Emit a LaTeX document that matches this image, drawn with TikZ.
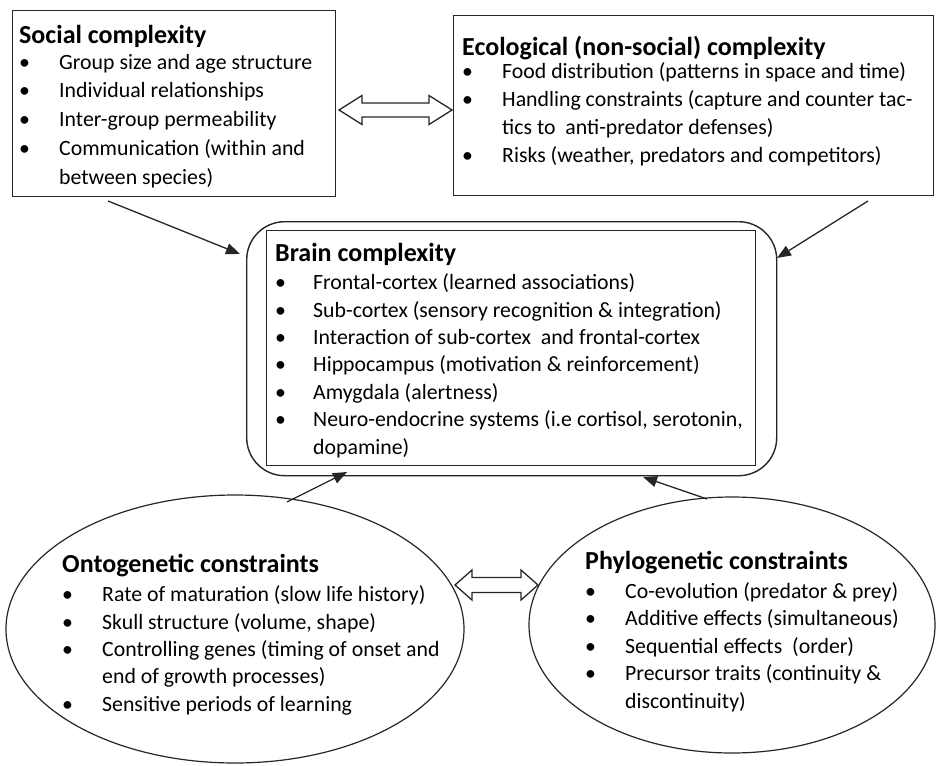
\documentclass[tikz,border=0pt]{standalone}
\usepackage{fontspec}
\setmainfont{Carlito}
\usetikzlibrary{arrows.meta,shapes.geometric}
\newcommand{\myBW}{40pt}
\newcommand{\bl}[1]{\makebox[\myBW][l]{\textbullet}#1}
\newcommand{\ct}[1]{\hspace*{\myBW}#1}
\newcommand{\hd}{\fontsize{26}{30}\selectfont\bfseries}
\begin{document}
\begin{tikzpicture}[x=1pt,y=-1pt,
  box/.style={draw=black!85, line width=1.4pt, inner sep=0pt, anchor=north west},
  oval/.style={ellipse, draw=black!85, line width=1.2pt, inner sep=0pt},
  txt/.style={anchor=base west, align=left, inner sep=0pt, text=black},
  conn/.style={draw=black!85, line width=1.3pt, -{Triangle[length=14pt,width=11pt]}},
  dbl/.style={draw=black!85, line width=1.3pt, fill=white, line join=miter}]
\useasboundingbox (0,0) rectangle (936,765);

% shapes
\node[box, minimum width=323pt, minimum height=186pt] (soc) at (12,10) {};
\node[box, minimum width=480pt, minimum height=180pt] (eco) at (453,15) {};
\node[box, rounded corners=38pt, minimum width=530pt, minimum height=254pt] (brainout) at (246,221) {};
\node[box, minimum width=489pt, minimum height=235pt] (brain) at (266,230) {};
\node[oval, minimum width=458pt, minimum height=268pt] (onto) at (235,629) {};
\node[oval, minimum width=406pt, minimum height=256pt] (phylo) at (732,625) {};

% texts (anchored at the baseline of their last line)
\node[txt, font={\fontsize{21.8}{28.7}\selectfont}] (soct) at (19,184)
 {{\hd Social complexity}\\[-2.5pt]
  \bl{Group size and age structure}\\
  \bl{Individual relationships}\\
  \bl{Inter-group permeability}\\
  \bl{Communication (within and}\\
  \ct{between species)}};

\node[txt, font={\fontsize{21.8}{28}\selectfont}] (ecot) at (462,162)
 {{\hd Ecological (non-social) complexity}\\[-5pt]
  \bl{Food distribution (patterns in space and time)}\\
  \bl{Handling constraints (capture and counter tac-}\\
  \ct{tics to\ \ anti-predator defenses)}\\
  \bl{Risks (weather, predators and competitors)}};

\node[txt, font={\fontsize{21.8}{27.4}\selectfont\renewcommand{\myBW}{38pt}}] (braint) at (275,454)
 {{\hd Brain complexity}\\[0.6pt]
  \bl{Frontal-cortex (learned associations)}\\
  \bl{Sub-cortex (sensory recognition \& integration)}\\
  \bl{Interaction of sub-cortex\ \ and frontal-cortex}\\
  \bl{Hippocampus (motivation \& reinforcement)}\\
  \bl{Amygdala (alertness)}\\
  \bl{Neuro-endocrine systems (i.e cortisol, serotonin,}\\
  \ct{dopamine)}};

\node[txt, font={\fontsize{21.8}{27.3}\selectfont}] (ontot) at (62,711)
 {{\hd Ontogenetic constraints}\\[2.5pt]
  \bl{Rate of maturation (slow life history)}\\
  \bl{Skull structure (volume, shape)}\\
  \bl{Controlling genes (timing of onset and}\\
  \ct{end of growth processes)}\\
  \bl{Sensitive periods of learning}};

\node[txt, font={\fontsize{21.8}{27.5}\selectfont}] (phylot) at (585,708)
 {{\hd Phylogenetic constraints}\\[1.5pt]
  \bl{Co-evolution (predator \& prey)}\\
  \bl{Additive effects (simultaneous)}\\
  \bl{Sequential effects\ \ (order)}\\
  \bl{Precursor traits (continuity \&}\\
  \ct{discontinuity)}};

% connectors
\coordinate (a1s) at (108,201); \coordinate (a1e) at (240,254);
\coordinate (a2s) at (868,201); \coordinate (a2e) at (777,258);
\coordinate (a3s) at (287,502); \coordinate (a3e) at (347,472);
\coordinate (a4s) at (707,499); \coordinate (a4e) at (643,477);
\draw[conn] (a1s) -- (a1e);
\draw[conn] (a2s) -- (a2e);
\draw[conn] (a3s) -- (a3e);
\draw[conn] (a4s) -- (a4e);

% double arrows
\draw[dbl] (339,110) -- (362,95.5) -- (362,103) -- (429,103) -- (429,95.5) -- (452,110)
  -- (429,124.5) -- (429,117) -- (362,117) -- (362,124.5) -- cycle;
\draw[dbl] (455,585) -- (472,570) -- (472,577.5) -- (521,577.5) -- (521,570) -- (538,585)
  -- (521,600) -- (521,592.5) -- (472,592.5) -- (472,600) -- cycle;
\end{tikzpicture}
\end{document}
